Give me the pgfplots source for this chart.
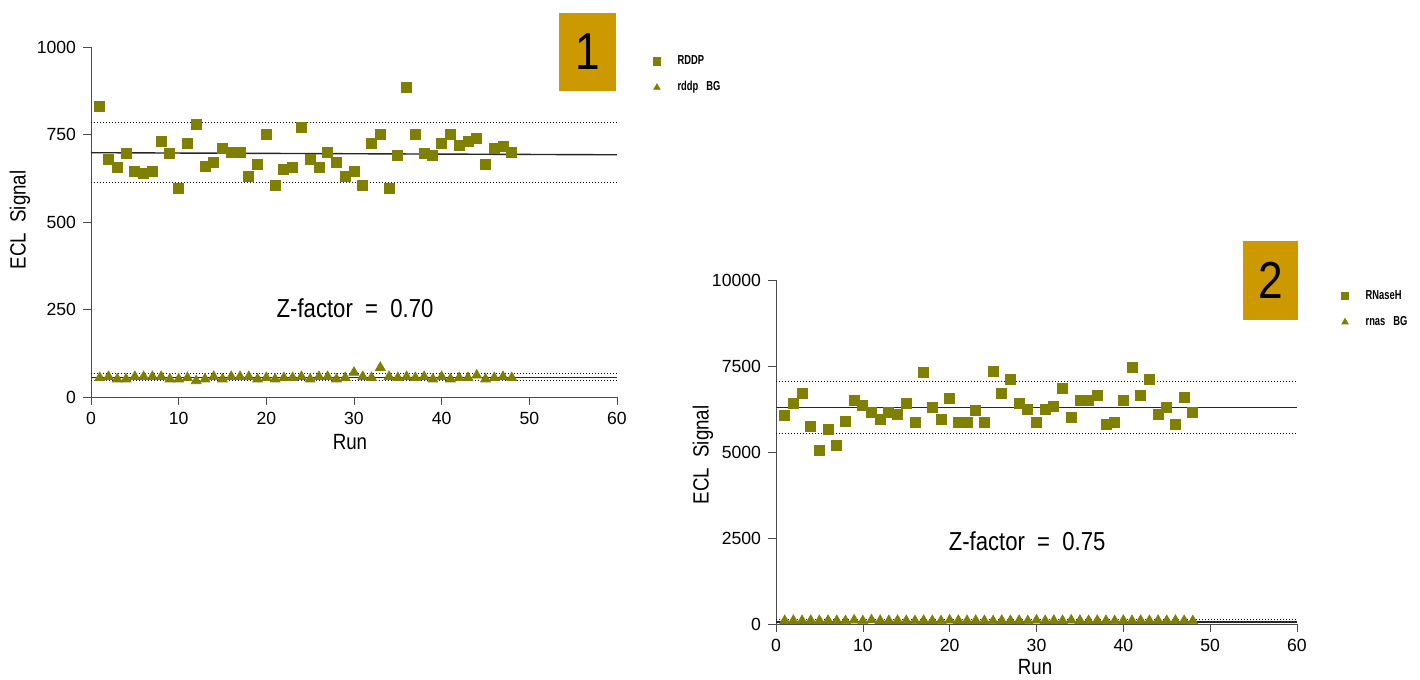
\documentclass[border=0pt]{standalone}
\usepackage{pgfplots}
\pgfplotsset{compat=1.18}
\usepackage{fontspec}
\setmainfont{Liberation Sans}
\newfontfamily\cond{Liberation Sans}[FakeStretch=0.85]
\newfontfamily\condleg{Liberation Sans}[FakeStretch=0.72]
\definecolor{mk}{HTML}{808000}
\definecolor{gold}{HTML}{CC9900}
\pgfplotsset{
  mystyle/.style={
    scale only axis, axis lines*=left, tick align=outside, major tick length=4pt,
    xmin=0, xmax=60, xtick={0,10,...,60}, ymin=0,
    scaled y ticks=false,
    tick label style={font=\fontsize{8.8}{10}\selectfont},
    /pgf/number format/assume math mode=true,
    /pgf/number format/1000 sep={},
    clip=false,
    axis line style={draw=black!70},
    tick style={black!70},
    legend style={draw=none, fill=none, font=\condleg\bfseries\fontsize{6.5}{7.5}\selectfont, row sep=3pt,
      cells={anchor=west}, /tikz/every odd column/.append style={column sep=6.5pt}},
    legend image post style={mark size=1.8pt},
    legend cell align=left,
  }
}
\begin{document}
\begin{tikzpicture}[x=1pt,y=1pt]
\useasboundingbox (0,0) rectangle (710,340);
% ---------------- Plot 1 ----------------
\begin{axis}[mystyle, at={(45.5pt,141.5pt)}, anchor=south west, width=263pt, height=175pt,
  ymax=1000, ytick={0,250,500,750,1000},
  legend style={at={(1.057,1.0)}, anchor=north west}]
\addplot[black!85, line width=0.7pt, forget plot] coordinates {(0,698) (60,692)};
\addplot[black, densely dotted, line width=0.5pt, forget plot] coordinates {(0,783) (60,783)};
\addplot[black, densely dotted, line width=0.5pt, forget plot] coordinates {(0,612) (60,612)};
\addplot[black!85, line width=0.7pt, forget plot] coordinates {(0,56) (60,56)};
\addplot[black, densely dotted, line width=0.5pt, forget plot] coordinates {(0,66) (60,66)};
\addplot[black, densely dotted, line width=0.5pt, forget plot] coordinates {(0,46) (60,46)};
\addplot[only marks, mark=square*, mark size=2.5pt, color=mk] coordinates {
(1,830) (2,680) (3,655) (4,695) (5,645) (6,640) (7,645) (8,730) (9,695) (10,595)
(11,725) (12,780) (13,660) (14,670) (15,710) (16,700) (17,700) (18,630) (19,665) (20,750)
(21,605) (22,650) (23,655) (24,770) (25,680) (26,655) (27,700) (28,670) (29,630) (30,645)
(31,605) (32,725) (33,750) (34,595) (35,690) (36,885) (37,750) (38,695) (39,690) (40,725)
(41,750) (42,720) (43,730) (44,740) (45,665) (46,710) (47,715) (48,700)};
\addlegendentry{RDDP}
\addplot[only marks, mark=triangle*, mark size=2.8pt, color=mk] coordinates {
(1,55) (2,58) (3,51) (4,51) (5,58) (6,58) (7,58) (8,58) (9,51) (10,51)
(11,55) (12,46) (13,51) (14,58) (15,51) (16,58) (17,58) (18,58) (19,51) (20,55)
(21,51) (22,55) (23,55) (24,58) (25,51) (26,58) (27,58) (28,51) (29,55) (30,70)
(31,58) (32,55) (33,84) (34,58) (35,55) (36,58) (37,55) (38,58) (39,51) (40,58)
(41,51) (42,55) (43,55) (44,62) (45,51) (46,55) (47,58) (48,55)};
\addlegendentry{rddp\hspace{4pt}BG}
\node[font=\cond\fontsize{13}{15}\selectfont] at (rel axis cs:0.502,0.254) {Z-factor\ \ =\ \ 0.70};
\node[fill=gold, minimum width=28.5pt, minimum height=39pt, inner sep=0pt, font=\cond\fontsize{26}{28}\selectfont] at (rel axis cs:0.944,0.986) {1};
\end{axis}
% ---------------- Plot 2 ----------------
\begin{axis}[mystyle, at={(388pt,28pt)}, anchor=south west, width=260.5pt, height=172pt,
  ymax=10000, ytick={0,2500,5000,7500,10000},
  legend style={at={(1.073,0.995)}, anchor=north west}]
\addplot[black!85, line width=0.7pt, forget plot] coordinates {(0,6300) (60,6300)};
\addplot[black, densely dotted, line width=0.5pt, forget plot] coordinates {(0,7050) (60,7050)};
\addplot[black, densely dotted, line width=0.5pt, forget plot] coordinates {(0,5550) (60,5550)};
\addplot[black!85, line width=0.7pt, forget plot] coordinates {(0,60) (60,60)};
\addplot[black, densely dotted, line width=0.5pt, forget plot] coordinates {(0,120) (60,120)};
\addplot[only marks, mark=square*, mark size=2.5pt, color=mk] coordinates {
(1,6050) (2,6400) (3,6700) (4,5750) (5,5050) (6,5650) (7,5200) (8,5900) (9,6500) (10,6350)
(11,6150) (12,5950) (13,6150) (14,6100) (15,6400) (16,5850) (17,7300) (18,6300) (19,5950) (20,6550)
(21,5850) (22,5850) (23,6200) (24,5850) (25,7350) (26,6700) (27,7100) (28,6400) (29,6250) (30,5850)
(31,6250) (32,6330) (33,6850) (34,6000) (35,6500) (36,6500) (37,6650) (38,5800) (39,5850) (40,6500)
(41,7450) (42,6650) (43,7100) (44,6100) (45,6300) (46,5800) (47,6600) (48,6150)};
\addlegendentry{RNaseH}
\addplot[only marks, mark=triangle*, mark size=2.8pt, color=mk] coordinates {
(1,95) (2,100) (3,95) (4,100) (5,95) (6,100) (7,95) (8,90) (9,110) (10,90)
(11,115) (12,100) (13,95) (14,100) (15,95) (16,90) (17,100) (18,95) (19,90) (20,110)
(21,100) (22,95) (23,100) (24,95) (25,90) (26,100) (27,95) (28,100) (29,90) (30,110)
(31,95) (32,100) (33,95) (34,110) (35,100) (36,95) (37,100) (38,95) (39,90) (40,100)
(41,95) (42,100) (43,95) (44,100) (45,95) (46,100) (47,95) (48,90)};
\addlegendentry{rnas\hspace{4pt}BG}
\node[font=\cond\fontsize{13}{15}\selectfont] at (rel axis cs:0.482,0.241) {Z-factor\ \ =\ \ 0.75};
\node[fill=gold, minimum width=27.5pt, minimum height=39.5pt, inner sep=0pt, font=\cond\fontsize{26}{28}\selectfont] at (rel axis cs:0.949,0.9985) {2};
\end{axis}
% ---------------- labels ----------------
\node[rotate=90, font=\cond\fontsize{11}{13}\selectfont] at (10,230) {ECL\ \ Signal};
\node[font=\cond\fontsize{11}{13}\selectfont] at (175,119) {Run};
\node[rotate=90, font=\cond\fontsize{11}{13}\selectfont] at (351.5,112.5) {ECL\ \ Signal};
\node[font=\cond\fontsize{11}{13}\selectfont] at (517.5,6.5) {Run};
\end{tikzpicture}
\end{document}
